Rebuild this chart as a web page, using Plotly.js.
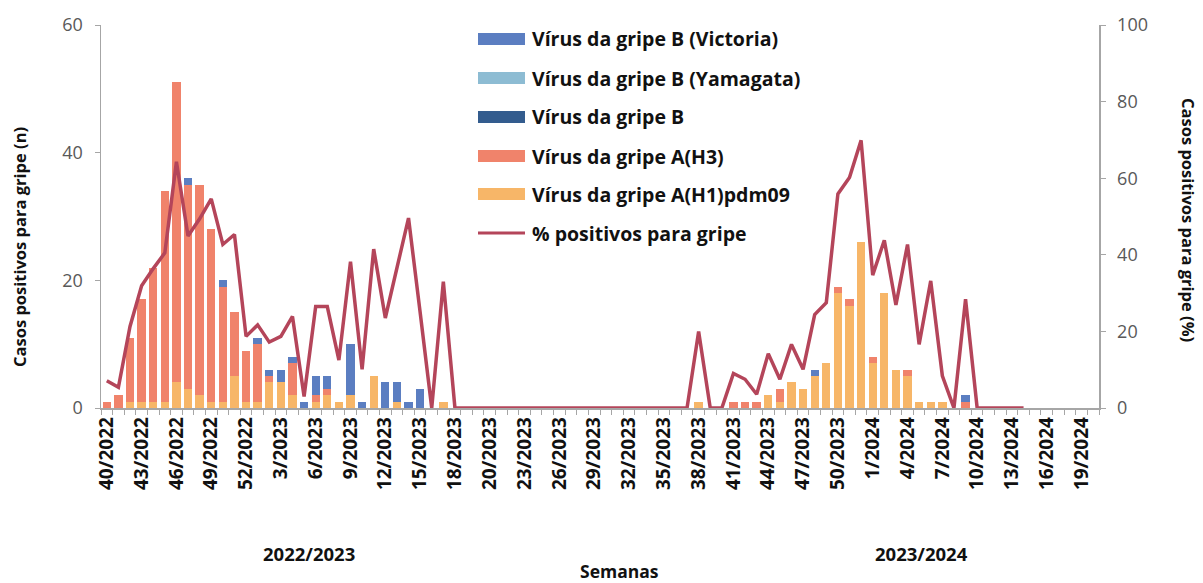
<!DOCTYPE html>
<html>
<head>
<meta charset="utf-8">
<script src="https://cdn.plot.ly/plotly-3.0.1.min.js"></script>
<style>
html,body{margin:0;padding:0;background:#fff;}
#chart{width:1203px;height:583px;}
</style>
</head>
<body>
<div id="chart"></div>
<script>
// ---- Week categories (season 2022/2023 ends at 20/2023; inter-season restarts at 20/2023)
function range(a, b, year) { var r = []; for (var w = a; w <= b; w++) r.push(w + "/" + year); return r; }
var weeks = [].concat(range(40, 52, 2022), range(1, 20, 2023), range(20, 52, 2023), range(1, 20, 2024));

// ---- Series (number of positive cases)
var h1pdm09 = [0,0,1,1,1,1,4,3,2,1, 1,5,1,1,4,4,2,0,1,2, 1,2,0,5,0,1,0,0,0,1,
               0,0,0,0,0,0,0,0,0,0, 0,0,0,0,0,0,0,0,0,0, 0,1,0,0,0,0,0,2,1,4,
               3,5,7,18,16,26,7,18,6,5, 1,1,1,0,0,0,0,0,0,0, 0,0,0,0,0,0];
var h3 =      [1,2,10,16,21,33,47,32,33,27, 18,10,8,9,1,0,5,0,1,1, 0,0,0,0,0,0,0,0,0,0,
               0,0,0,0,0,0,0,0,0,0, 0,0,0,0,0,0,0,0,0,0, 0,0,0,0,1,1,1,0,2,0,
               0,0,0,1,1,0,1,0,0,1, 0,0,0,0,1,0,0,0,0,0, 0,0,0,0,0,0];
var bUnknown = [0,0,0,0,0,0,0,0,0,0, 0,0,0,0,0,0,0,0,0,0, 0,0,0,0,0,0,0,0,0,0,
               0,0,0,0,0,0,0,0,0,0, 0,0,0,0,0,0,0,0,0,0, 0,0,0,0,0,0,0,0,0,0,
               0,0,0,0,0,0,0,0,0,0, 0,0,0,0,0,0,0,0,0,0, 0,0,0,0,0,0];
var bYamagata = [0,0,0,0,0,0,0,0,0,0, 0,0,0,0,0,0,0,0,0,0, 0,0,0,0,0,0,0,0,0,0,
               0,0,0,0,0,0,0,0,0,0, 0,0,0,0,0,0,0,0,0,0, 0,0,0,0,0,0,0,0,0,0,
               0,0,0,0,0,0,0,0,0,0, 0,0,0,0,0,0,0,0,0,0, 0,0,0,0,0,0];
var bVictoria = [0,0,0,0,0,0,0,1,0,0, 1,0,0,1,1,2,1,1,3,2, 0,8,1,0,4,3,1,3,0,0,
               0,0,0,0,0,0,0,0,0,0, 0,0,0,0,0,0,0,0,0,0, 0,0,0,0,0,0,0,0,0,0,
               0,1,0,0,0,0,0,0,0,0, 0,0,0,0,1,0,0,0,0,0, 0,0,0,0,0,0];
// ---- % positive for influenza
var pctPositive = [7.1,5.4,21.3,31.9,36.4,40.5,64.3,44.9,49.4,54.6, 42.7,45.3,18.7,21.7,17.2,18.7,23.9,3,26.5,26.5,
               12.5,38.2,10.1,41.5,23.5,36.5,49.6,25,0,33, 0,0,0,0,0,0,0,0,0,0,
               0,0,0,0,0,0,0,0,0,0, 0,20,0,0,9,7.5,3.6,14.2,7.5,16.6,
               10.1,24.4,27.5,55.9,60.2,69.9,34.7,43.8,26.9,42.7, 16.6,33.2,8.4,0,28.4,0,0,0,0,0,
               null,null,null,null,null,null];

var seriesNames = ["Vírus da gripe B (Victoria)", "Vírus da gripe B (Yamagata)", "Vírus da gripe B",
                   "Vírus da gripe A(H3)", "Vírus da gripe A(H1)pdm09", "% positivos para gripe"];
var seasonLabels = ["2022/2023", "2023/2024"];
var xTitle = "Semanas";
var yTitleLeft = "Casos positivos para gripe (n)";
var yTitleRight = "Casos positivos para gripe (%)";

// ---- styles
var colors = {vic: "#5B7EC1", yam: "#8DBCD3", b: "#335C8E", h3: "#F0836B", h1: "#F7B668", line: "#B4455A"};
var FONT = "'Open Sans', Lato, sans-serif";
var axisGrey = "#A6A6A6";
var txt = "#111";

var x = weeks.map(function (_, i) { return i; });
var tickIdx = x.filter(function (i) { return i % 3 === 0; });
var tickTxt = tickIdx.map(function (i) { return weeks[i]; });

function barTrace(y, name, color) {
  return {type: "bar", x: x, y: y, name: name, marker: {color: color, line: {width: 0}},
          showlegend: false, hoverinfo: "skip"};
}
var traces = [
  barTrace(h1pdm09, seriesNames[4], colors.h1),
  barTrace(h3, seriesNames[3], colors.h3),
  barTrace(bUnknown, seriesNames[2], colors.b),
  barTrace(bYamagata, seriesNames[1], colors.yam),
  barTrace(bVictoria, seriesNames[0], colors.vic),
  {type: "scatter", mode: "lines", x: x, y: pctPositive, yaxis: "y2", name: seriesNames[5],
   line: {color: colors.line, width: 3.5}, connectgaps: false, showlegend: false, hoverinfo: "skip"}
];

// ---- layout geometry helpers (pixel -> paper)
var M = {l: 101, r: 104, t: 25, b: 175};
var W = 1203, H = 583;
var PW = W - M.l - M.r, PH = H - M.t - M.b;
function px(xp) { return (xp - M.l) / PW; }
function py(yp) { return (H - M.b - yp) / PH; }

var shapes = [], annotations = [];
var legendColors = [colors.vic, colors.yam, colors.b, colors.h3, colors.h1];
var rowY = [39, 78, 117, 156, 194, 233];
for (var k = 0; k < seriesNames.length; k++) {
  if (k < 5) {
    shapes.push({type: "rect", xref: "paper", yref: "paper", x0: px(478), x1: px(525),
                 y0: py(rowY[k] + 6), y1: py(rowY[k] - 6), fillcolor: legendColors[k], line: {width: 0}});
  } else {
    shapes.push({type: "line", xref: "paper", yref: "paper", x0: px(478), x1: px(525),
                 y0: py(rowY[k]), y1: py(rowY[k]), line: {color: colors.line, width: 3}});
  }
  annotations.push({xref: "paper", yref: "paper", x: px(530), y: py(rowY[k]), xanchor: "left", yanchor: "middle",
                    text: seriesNames[k], showarrow: false,
                    font: {family: FONT, size: 19.5, color: txt, weight: "bold"}});
}
function label(text, xp, yp, angle, size) {
  annotations.push({xref: "paper", yref: "paper", x: px(xp), y: py(yp), xanchor: "center", yanchor: "middle",
                    textangle: angle, showarrow: false, text: text,
                    font: {family: FONT, size: size, color: txt, weight: "bold"}});
}
label(yTitleLeft, 19, 247, -90, 16.5);
label(yTitleRight, 1189, 220, 90, 16.5);
label(seasonLabels[0], 309, 553, 0, 18.5);
label(seasonLabels[1], 921, 553, 0, 18.5);
label(xTitle, 619, 571, 0, 17.5);

var layout = {
  width: W, height: H, margin: M,
  paper_bgcolor: "#fff", plot_bgcolor: "#fff",
  barmode: "stack", bargap: 0.28,
  showlegend: false, hovermode: false,
  font: {family: FONT},
  xaxis: {
    range: [-0.5, weeks.length - 0.5], tickmode: "array", tickvals: tickIdx, ticktext: tickTxt,
    tickangle: -90, ticks: "", showgrid: false, zeroline: false,
    showline: true, linecolor: axisGrey, linewidth: 1.5,
    tickfont: {family: FONT, size: 19, color: txt, weight: "bold"},
    minor: {tickmode: "linear", tick0: -0.5, dtick: 1, ticks: "outside", ticklen: 5, tickwidth: 1, tickcolor: axisGrey, showgrid: false}
  },
  yaxis: {
    range: [0, 60], tickmode: "linear", tick0: 0, dtick: 20, ticks: "outside", ticklen: 5, tickcolor: axisGrey,
    ticklabelstandoff: 8,
    showgrid: false, zeroline: false, showline: true, linecolor: axisGrey, linewidth: 1.5,
    tickfont: {family: FONT, size: 18, color: "#595959"}
  },
  yaxis2: {
    overlaying: "y", side: "right", range: [0, 100], tickmode: "linear", tick0: 0, dtick: 20,
    ticks: "outside", ticklen: 5, tickcolor: axisGrey, ticklabelstandoff: 8,
    showgrid: false, zeroline: false, showline: true, linecolor: axisGrey, linewidth: 1.5,
    tickfont: {family: FONT, size: 18, color: "#595959"}
  },
  shapes: shapes,
  annotations: annotations
};

Plotly.newPlot("chart", traces, layout, {staticPlot: true, displayModeBar: false});
</script>
</body>
</html>
